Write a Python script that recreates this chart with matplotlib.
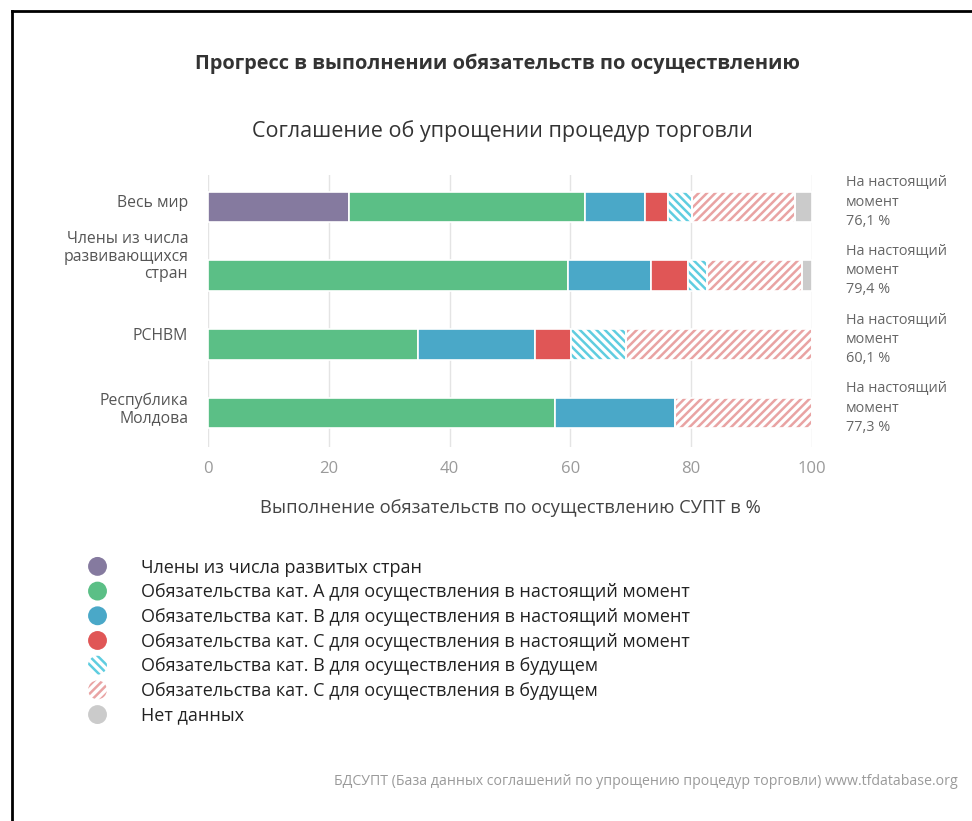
import matplotlib
matplotlib.use("Agg")
import matplotlib.pyplot as plt
import matplotlib.patches as mpatches
from matplotlib.legend_handler import HandlerPatch
from matplotlib.lines import Line2D
import numpy as np

plt.rcParams['font.family'] = ['Open Sans', 'DejaVu Sans']
plt.rcParams['hatch.linewidth'] = 1.8

# ---------------- data ----------------
categories = ["Весь мир", "Члены из числа\nразвивающихся\nстран", "РСНВМ", "Республика\nМолдова"]
developed   = [23.4, 0.0, 0.0, 0.0]
cat_a_now   = [39.0, 59.6, 34.8, 57.5]
cat_b_now   = [10.0, 13.7, 19.4, 19.8]
cat_c_now   = [3.7, 6.1, 5.9, 0.0]
cat_b_fut   = [4.0, 3.2, 9.1, 0.0]
cat_c_fut   = [17.1, 15.7, 30.8, 22.7]
no_data     = [2.8, 1.7, 0.0, 0.0]
now_labels  = ["76,1 %", "79,4 %", "60,1 %", "77,3 %"]
xticks      = [0, 20, 40, 60, 80, 100]

series_labels = [
    "Члены из числа развитых стран",
    "Обязательства кат. А для осуществления в настоящий момент",
    "Обязательства кат. В для осуществления в настоящий момент",
    "Обязательства кат. С для осуществления в настоящий момент",
    "Обязательства кат. В для осуществления в будущем",
    "Обязательства кат. С для осуществления в будущем",
    "Нет данных",
]
series_values = [developed, cat_a_now, cat_b_now, cat_c_now, cat_b_fut, cat_c_fut, no_data]
# style per series: (face, hatch colour, hatch)
styles = [
    ("#857a9f", None, None),
    ("#5bbf86", None, None),
    ("#4aa8c8", None, None),
    ("#e05656", None, None),
    ("white", "#5fcde0", "\\\\\\\\"),
    ("white", "#e9a3a3", "////"),
    ("#cbcbcb", None, None),
]

W, H = 972, 821
fig = plt.figure(figsize=(W / 100, H / 100), dpi=100)

def px_rect(x0, y0, x1, y1):
    return [x0 / W, 1 - y1 / H, (x1 - x0) / W, (y1 - y0) / H]

ax = fig.add_axes(px_rect(208, 175, 812, 447))

ypos = np.arange(len(categories))
bar_h = 0.45
left = np.zeros(len(categories))
handles = []
for vals, (face, hcol, hatch), lab in zip(series_values, styles, series_labels):
    vals = np.array(vals)
    if hatch is None:
        ax.barh(ypos, vals, left=left, height=bar_h, color=face,
                edgecolor="white", linewidth=1.2, zorder=2)
        handles.append(mpatches.Patch(facecolor=face, edgecolor=face, linewidth=0, label=lab))
    else:
        ax.barh(ypos, vals, left=left, height=bar_h, color="white",
                edgecolor=hcol, hatch=hatch, linewidth=0, zorder=2)
        ax.barh(ypos, vals, left=left, height=bar_h, fill=False,
                edgecolor="white", linewidth=1.2, zorder=3)
        handles.append(mpatches.Patch(facecolor="white", edgecolor=hcol, hatch=hatch,
                                      linewidth=0, label=lab))
    left = left + vals

ax.set_xlim(0, 100)
ax.set_ylim(3.495, -0.466)
ax.set_xticks(xticks)
ax.set_xticklabels([str(t) for t in xticks])
ax.tick_params(axis="x", length=0, pad=10, labelsize=12, labelcolor="#9a9a9a")
ax.set_yticks([])
ax.grid(axis="x", color="#e4e4e4", linewidth=1, zorder=0)
for s in ax.spines.values():
    s.set_visible(False)

# category labels (left)
ylab_off_px = [-4, -19, -8, -4]
for i, (cat, off) in enumerate(zip(categories, ylab_off_px)):
    ax.annotate(cat, xy=(0, ypos[i]), xycoords=("axes fraction", "data"),
                xytext=(-20 * 0.72, -off * 0.72), textcoords="offset points",
                ha="right", va="center", fontsize=11.3, color="#555555",
                linespacing=1.1, multialignment="right")

# right labels
for i, lab in enumerate(now_labels):
    ax.annotate("На настоящий\nмомент\n" + lab, xy=(1, ypos[i]),
                xycoords=("axes fraction", "data"),
                xytext=(34 * 0.72, 5 * 0.72), textcoords="offset points",
                ha="left", va="center", fontsize=10.4, color="#666666",
                linespacing=1.38)

ax.set_xlabel("Выполнение обязательств по осуществлению СУПТ в %",
              fontsize=13.2, color="#444444", labelpad=16)

# titles
fig.text(497 / W, 1 - 64 / H, "Прогресс в выполнении обязательств по осуществлению",
         ha="center", va="center", fontsize=14.4, fontweight="bold", color="#333333")
fig.text(502 / W, 1 - 131 / H, "Соглашение об упрощении процедур торговли",
         ha="center", va="center", fontsize=15.5, color="#333333")

# source
fig.text(958 / W, 1 - 781 / H,
         "БДСУПТ (База данных соглашений по упрощению процедур торговли) www.tfdatabase.org",
         ha="right", va="center", fontsize=10.2, color="#9a9a9a")


class HandlerCircle(HandlerPatch):
    def create_artists(self, legend, orig_handle, xdescent, ydescent,
                       width, height, fontsize, trans):
        center = (0.5 * width - xdescent, 0.5 * height - ydescent)
        p = mpatches.Circle(center, radius=6.8)
        self.update_prop(p, orig_handle, legend)
        p.set_transform(trans)
        return [p]


fs = 13
leg = fig.legend(handles=handles, labels=series_labels, loc="upper left",
                 bbox_to_anchor=(88 / W, 1 - 558 / H), frameon=False,
                 fontsize=fs, handlelength=13.7 / fs, handleheight=13.7 / fs,
                 handletextpad=24.8 / fs, labelspacing=0.34, borderpad=0,
                 borderaxespad=0,
                 handler_map={mpatches.Patch: HandlerCircle()})
for t in leg.get_texts():
    t.set_color("#222222")

# frame lines of the picture (top and left)
fig.add_artist(Line2D([12 / W, 12 / W], [0, 1 - 11 / H], transform=fig.transFigure,
                      color="black", linewidth=2))
fig.add_artist(Line2D([12 / W, 1], [1 - 11 / H, 1 - 11 / H], transform=fig.transFigure,
                      color="black", linewidth=2))

fig.savefig("out.png", dpi=100, facecolor="white")
